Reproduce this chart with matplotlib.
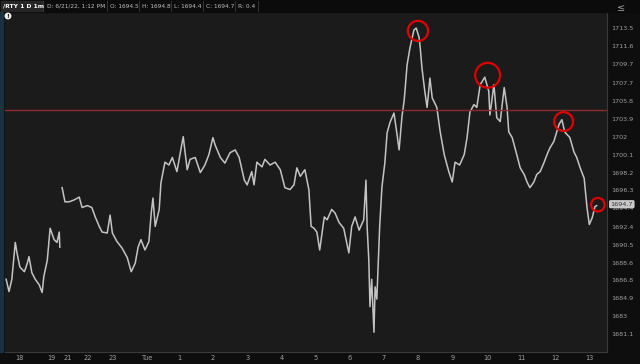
import matplotlib
matplotlib.use("Agg")
import matplotlib.pyplot as plt
from matplotlib.patches import Rectangle

# minutes from chart start, and prices (1 minute bars, traced)
pre_min = [0, 5, 10, 16, 19, 24, 32, 37, 40, 45, 51, 58, 63, 66, 72, 77, 84, 89, 93, 94]
pre_px = [1686.9, 1685.6, 1686.9, 1690.8, 1689.7, 1688.2, 1687.7, 1688.6, 1689.3, 1687.6,
          1686.9, 1686.3, 1685.5, 1687.2, 1688.9, 1692.3, 1691.1, 1690.8, 1691.9, 1690.3]

main_min = [98, 103, 110, 119, 128, 133, 142, 150, 156, 163, 168, 177, 182, 186, 194, 203,
            212, 219, 226, 231, 236, 243, 250, 254, 257, 261, 268, 271, 278, 285, 291, 299,
            310, 317, 322, 331, 340, 348, 355, 362, 366, 375, 383, 392, 401, 408, 417, 422,
            430, 434, 439, 448, 453, 462, 471, 480, 488, 497, 504, 509, 515, 523, 530, 534,
            539, 544, 549, 557, 562, 570, 576, 583, 591, 600, 605, 611, 618, 626, 630, 632,
            635, 637, 640, 644, 646, 649, 654, 658, 663, 667, 672, 679, 684, 688, 693, 697,
            702, 707, 714, 718, 723, 725, 728, 733, 737, 742, 746, 754, 760, 767, 775, 781,
            786, 794, 802, 807, 812, 819, 824, 830, 838, 845, 847, 854, 859, 865, 872, 877,
            880, 886, 894, 900, 907, 912, 917, 924, 929, 935, 942, 947, 952, 959, 968, 973,
            978, 987, 994, 999, 1005, 1012, 1017, 1021, 1026, 1031, 1034]
main_px = [1696.6, 1695.1, 1695.1, 1695.3, 1695.6, 1694.5, 1694.7, 1694.5, 1693.5, 1692.5,
           1691.9, 1691.8, 1693.7, 1691.8, 1690.9, 1690.2, 1689.2, 1687.7, 1688.6, 1690.3,
           1691.1, 1690.0, 1690.9, 1693.9, 1695.5, 1692.5, 1694.3, 1697.1, 1699.3, 1699.0,
           1699.8, 1698.3, 1702.0, 1698.5, 1699.6, 1699.8, 1698.2, 1699.0, 1700.1, 1701.9,
           1701.1, 1699.8, 1699.2, 1700.3, 1700.6, 1699.8, 1697.4, 1696.9, 1698.3, 1696.9,
           1699.3, 1698.8, 1699.6, 1699.0, 1699.3, 1698.5, 1696.6, 1696.4, 1696.9, 1698.7,
           1697.8, 1698.5, 1696.4, 1692.5, 1692.3, 1691.9, 1690.0, 1693.5, 1693.2, 1694.3,
           1693.9, 1692.9, 1692.3, 1689.7, 1692.5, 1693.5, 1692.1, 1693.2, 1697.4, 1692.5,
           1688.9, 1684.0, 1686.9, 1681.3, 1686.1, 1684.8, 1692.5, 1696.7, 1699.2, 1702.4,
           1703.5, 1704.5, 1702.4, 1700.6, 1704.1, 1705.9, 1709.6, 1711.4, 1713.3, 1713.5,
           1712.5, 1711.4, 1709.3, 1706.8, 1705.1, 1708.2, 1706.1, 1705.1, 1702.5, 1700.1,
           1698.3, 1697.2, 1699.3, 1699.0, 1700.1, 1701.9, 1704.6, 1705.4, 1705.1, 1707.5,
           1708.3, 1706.8, 1704.3, 1707.5, 1704.0, 1703.6, 1707.2, 1705.1, 1702.5, 1701.9,
           1700.1, 1698.7, 1698.0, 1697.2, 1696.6, 1697.2, 1698.0, 1698.3, 1699.3, 1700.1,
           1700.8, 1701.5, 1703.3, 1703.8, 1702.5, 1701.9, 1700.4, 1699.8, 1698.7, 1697.6,
           1694.5, 1692.7, 1693.4, 1694.6, 1694.7]

x_tick_pos = [23, 79, 108, 143, 186, 248, 303, 362, 422, 483, 542, 602, 661, 721, 782, 843, 903, 962, 1022]
x_tick_lbl = ["18", "19", "21", "22", "23", "Tue", "1", "2", "3", "4", "5", "6", "7", "8", "9",
              "10", "11", "12", "13"]
y_ticks = [1713.5, 1711.6, 1709.7, 1707.7, 1705.8, 1703.9, 1702, 1700.1, 1698.2, 1696.3,
           1694.4, 1692.4, 1690.5, 1688.6, 1686.8, 1684.9, 1683, 1681.1]
level = 1704.8
last_price = 1694.7

# red circles drawn on the chart (minute, price, size)
circ_min = [721, 843, 976, 1036]
circ_px = [1713.2, 1708.5, 1703.6, 1694.8]
circ_size = [210, 320, 185, 95]

header = ["D: 6/21/22, 1:12 PM", "O: 1694.5", "H: 1694.8", "L: 1694.4", "C: 1694.7", "R: 0.4"]
header_x = [47, 110, 142, 174, 206, 238]
sep_x = [43, 107, 139, 171, 203, 235, 258]

W, H = 640, 364
fig = plt.figure(figsize=(W / 100, H / 100), dpi=100, facecolor="#0e0e0e")
ax = fig.add_axes([5 / W, 12 / H, 602 / W, 340 / H], facecolor="#1b1b1b")

ax.plot(pre_min, pre_px, color="#c4c4c4", lw=1.1)
ax.plot(main_min, main_px, color="#c4c4c4", lw=1.1)
ax.axhline(level, color="#8e2b2b", lw=1.0)
ax.scatter(circ_min, circ_px, s=circ_size, facecolors="none", edgecolors="#e00000", linewidths=1.6, zorder=5)

ax.set_xlim(-2, 1052)
ax.set_ylim(1679.2, 1715.2)
ax.set_xticks(x_tick_pos)
ax.set_xticklabels(x_tick_lbl)
ax.set_yticks(y_ticks)
ax.set_yticklabels([f"{v:g}" for v in y_ticks])
ax.yaxis.tick_right()
ax.tick_params(axis="both", length=0, colors="#a0a0a0")
ax.tick_params(axis="y", pad=3, labelsize=4.6)
ax.tick_params(axis="x", pad=2.5, labelsize=4.8)
for lbl in ax.get_yticklabels():
    lbl.set_horizontalalignment("left")
for s in ax.spines.values():
    s.set_color("#3a3a3a")
    s.set_linewidth(0.8)
ax.spines["left"].set_visible(False)

# last price tag
ax.text(1.006, (last_price + 0.15 - 1679.2) / 36.0, f"{last_price}", transform=ax.transAxes,
        fontsize=4.6, color="#333333", va="center", ha="left", zorder=6,
        bbox=dict(boxstyle="round,pad=0.25", fc="#c9c9c9", ec="none"))

# header strip
fig.patches.append(Rectangle((0, 1 - 12 / H), 1, 12 / H, transform=fig.transFigure, color="#0b0b0b"))
fig.patches.append(Rectangle((1 / W, 1 - 11 / H), 42 / W, 10 / H, transform=fig.transFigure, color="#262626"))
fig.patches.append(Rectangle((0, 12 / H), 3 / W, 340 / H, transform=fig.transFigure, color="#18323f"))
fig.text(3 / W, 1 - 6 / H, "/RTY 1 D 1m", fontsize=4.3, color="#ffffff", fontweight="bold", va="center")
for t, xp in zip(header, header_x):
    fig.text(xp / W, 1 - 6 / H, t, fontsize=4.2, color="#bdbdbd", va="center")
for xp in sep_x:
    fig.add_artist(plt.Line2D([xp / W, xp / W], [1 - 11 / H, 1 - 1 / H], color="#3c3c3c", lw=0.6))
fig.text(8 / W, 1 - 16 / H, "!", fontsize=4.5, color="#1b1b1b", fontweight="bold", ha="center", va="center",
         bbox=dict(boxstyle="circle,pad=0.15", fc="#eeeeee", ec="none"))
fig.text(621 / W, 1 - 8 / H, "\u2264", fontsize=7, color="#9a9a9a", ha="center", va="center")

fig.savefig("out.png", dpi=100, facecolor=fig.get_facecolor())
